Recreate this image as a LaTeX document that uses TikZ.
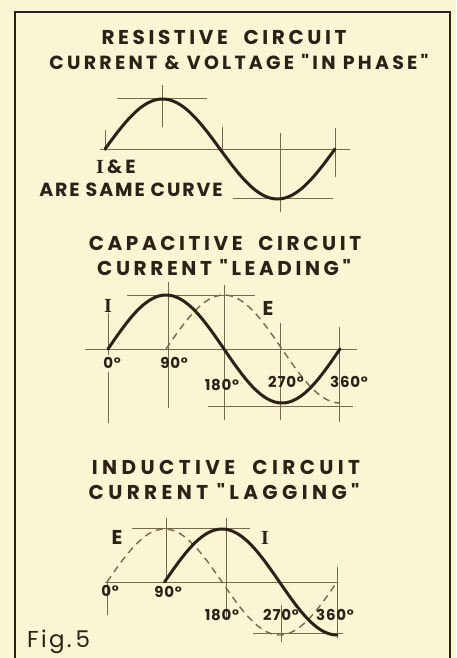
\documentclass[tikz,border=0pt]{standalone}
\usepackage{fontspec}
\setmainfont{Poppins}
\newfontfamily\ttl[LetterSpace=18]{Poppins}
\newfontfamily\ttlw[LetterSpace=22]{Poppins}
\newfontfamily\ttlb[LetterSpace=17]{Poppins}
\newfontfamily\lab[LetterSpace=10]{Poppins}
\newfontfamily\dg[LetterSpace=5]{Poppins}
\newfontfamily\figf[LetterSpace=10]{Poppins}
\newfontfamily\serI{Liberation Serif}
\definecolor{paper}{HTML}{FAF5D3}
\definecolor{ink}{HTML}{2B2116}
\definecolor{gridc}{HTML}{75694F}
\tikzset{
  frameline/.style={ink, line width=2.6pt},
  gridline/.style={gridc, line width=0.9pt},
  wave/.style={ink, line width=3pt, line cap=round, line join=round},
  dwave/.style={gridc, line width=1.4pt, dash pattern=on 7pt off 5pt},
  title/.style={ink, font=\ttl\bfseries\fontsize{20}{22}\selectfont, inner sep=0pt},
  titlew/.style={ink, font=\ttlw\bfseries\fontsize{20}{22}\selectfont, inner sep=0pt},
  deg/.style={ink, font=\dg\bfseries\fontsize{15}{17}\selectfont, inner sep=0pt},
  lbl/.style={ink, font=\lab\bfseries\fontsize{19}{21}\selectfont, inner sep=0pt},
  curvelbl/.style={ink, font=\bfseries\fontsize{20}{22}\selectfont, inner sep=0pt},
}
\begin{document}
\begin{tikzpicture}[x=1pt,y=-1pt]
\fill[paper] (0,0) rectangle (456,658);
\useasboundingbox (0,0) rectangle (456,658);
\draw[frameline] (15,662) -- (15,12) -- (450,12) -- (450,662);

% ---------- Resistive ----------
\node[title] (t1a) at (224,37) {RESISTIVE\ \ CIRCUIT};
\node[title, font=\ttlb\bfseries\fontsize{19}{21}\selectfont] (t1b) at (239,62) {CURRENT \& VOLTAGE "IN PHASE"};
\draw[gridline] (100,149) -- (350,149);
\draw[gridline] (117,98) -- (207,98);
\draw[gridline] (233,198) -- (333,198);
\draw[gridline] (162,85) -- (162,127);
\draw[gridline] (105,130) -- (105,151);
\draw[gridline] (222,127) -- (222,153);
\draw[gridline] (280,133) -- (280,212);
\draw[gridline] (335,128) -- (335,177);
\draw[wave] plot[domain=0:360, samples=90] ({105+\x/90*57.5},{149-50*sin(\x)});
\node[lbl] (ie) at (116,167) {{\serI\bfseries\fontsize{20}{22}\selectfont I}\,\&\,E};
\node[lbl] (same) at (131,190) {ARE SAME CURVE};

% ---------- Capacitive ----------
\node[title] (t2a) at (225,243) {CAPACITIVE\ \ CIRCUIT};
\node[title] (t2b) at (224,268) {CURRENT "LEADING"};
\draw[gridline] (85,349) -- (357,349);
\draw[gridline] (127,295) -- (255,295);
\draw[gridline] (208,406) -- (353,406);
\draw[gridline] (108,313) -- (108,355);
\draw[gridline] (108,372) -- (108,423);
\draw[gridline] (168,282) -- (168,408);
\draw[gridline] (224,285) -- (224,420);
\draw[gridline] (280,323) -- (280,420);
\draw[gridline] (339,327) -- (339,422);
\draw[dwave] plot[domain=90:360, samples=70] ({108+\x/90*58},{349-54*sin(\x-90)});
\draw[wave] plot[domain=0:360, samples=90] ({108+\x/90*58},{349-54*sin(\x)});
\node[curvelbl] (i2) at (108,306) {\serI\bfseries I};
\node[curvelbl] (e2) at (268,308) {E};
\node[deg] (d20) at (112,363) {0°};
\node[deg] (d290) at (174,363) {90°};
\node[deg] (d2180) at (222,385) {180°};
\node[deg] (d2270) at (286,382) {270°};
\node[deg] (d2360) at (349,382) {360°};

% ---------- Inductive ----------
\node[titlew] (t3a) at (226,467) {INDUCTIVE\ \ CIRCUIT};
\node[titlew] (t3b) at (224,492) {CURRENT "LAGGING"};
\draw[gridline] (105,582) -- (338,582);
\draw[gridline] (132,528) -- (250,528);
\draw[gridline] (253,633) -- (343,633);
\draw[gridline] (107,582) -- (107,615);
\draw[gridline] (166,518) -- (166,582);
\draw[gridline] (226,518) -- (226,620);
\draw[gridline] (281,605) -- (281,642);
\draw[gridline] (337,567) -- (337,638);
\draw[dwave] plot[domain=0:360, samples=90] ({107+\x/90*57.5},{582-53*sin(\x)});
\draw[wave] plot[domain=90:360, samples=70] ({107+\x/90*57.5},{582-53*sin(\x-90)});
\node[curvelbl] (e3) at (117,537) {E};
\node[curvelbl] (i3) at (265,538) {\serI\bfseries I};
\node[deg] (d30) at (110,591) {0°};
\node[deg] (d390) at (168,592) {90°};
\node[deg] (d3180) at (222,615) {180°};
\node[deg] (d3270) at (281,615) {270°};
\node[deg] (d3360) at (335,615) {360°};

\node[ink, font=\figf\fontsize{23}{25}\selectfont, inner sep=0pt, anchor=west] (fig) at (27,642) {Fig.\,5};
\end{tikzpicture}
\end{document}
